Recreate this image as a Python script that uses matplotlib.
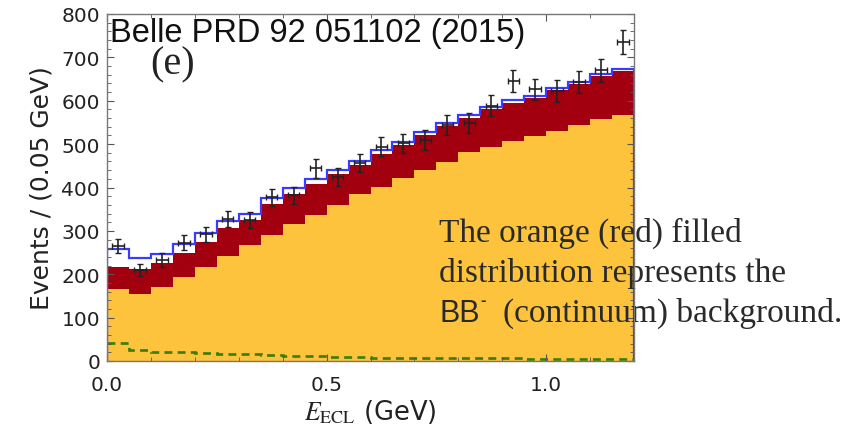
import numpy as np
import matplotlib
matplotlib.use("Agg")
import matplotlib.pyplot as plt
from matplotlib.ticker import MultipleLocator

plt.rcParams['font.family'] = ['DejaVu Sans']
plt.rcParams['mathtext.fontset'] = 'stix'

# E_ECL bins (0.05 GeV wide, 0 - 1.2 GeV)
bin_width = 0.05
n_bins = 24
# BB background (orange)
bb_bkg = [166, 154, 170, 193, 217, 242, 267, 290, 317, 336, 359, 384,
          402, 421, 440, 459, 482, 494, 508, 518, 531, 544, 557, 567]
# continuum background (red), stacked on top of BB
continuum = [51, 57, 55, 57, 58, 64, 58, 72, 69, 72, 71, 68,
             76, 77, 81, 82, 78, 86, 87, 89, 94, 95, 100, 101]
# signal (green dashed), adds to the total (blue)
signal = [42, 26, 21, 20, 19, 17, 15, 13, 12, 11, 10, 9,
          8, 8, 7, 7, 6, 6, 6, 5, 5, 5, 5, 5]
# data points
data = [266, 210, 233, 273, 292, 327, 325, 377, 382, 444, 424, 457,
        494, 502, 509, 544, 548, 588, 646, 626, 622, 643, 670, 735]

edges = np.arange(n_bins + 1) * bin_width
centers = 0.5 * (edges[:-1] + edges[1:])
bb_bkg = np.array(bb_bkg)
red_top = bb_bkg + np.array(continuum)
total = red_top + np.array(signal)
data = np.array(data)

fig = plt.figure(figsize=(8.58, 4.31), dpi=100)
ax = fig.add_axes([107/858, 1-362/431, 527/858, 347/431])

ax.stairs(bb_bkg, edges, baseline=0, fill=True, color='#FDC33D', zorder=1)
ax.stairs(red_top, edges, baseline=bb_bkg, fill=True, color='#A3000F', zorder=1.1)
ax.stairs(total, edges, baseline=0, color='#3B3BFF', lw=1.6, zorder=1.2)
ax.stairs(signal, edges, baseline=None, color='#3A7D00', lw=1.9, ls=(0, (3, 2)), zorder=1.3)
ax.errorbar(centers, data, yerr=np.sqrt(data), xerr=0.013, fmt='none',
            ecolor='#222222', elinewidth=1.2, capsize=2, capthick=1, zorder=3)

ax.set_xlim(0, 1.2)
ax.set_ylim(0, 800)
ax.xaxis.set_major_locator(MultipleLocator(0.5))
ax.xaxis.set_minor_locator(MultipleLocator(0.1))
ax.yaxis.set_major_locator(MultipleLocator(100))
ax.yaxis.set_minor_locator(MultipleLocator(20))
ax.xaxis.set_major_formatter(matplotlib.ticker.FormatStrFormatter('%.1f'))
ax.tick_params(which='both', direction='in', top=True, right=True, color='#555555')
ax.tick_params(which='major', length=5, labelsize=14.5, labelcolor='#222222')
ax.tick_params(which='minor', length=3)
ax.tick_params(axis='x', pad=10)
ax.tick_params(axis='y', pad=5)
for s in ax.spines.values():
    s.set_color('#777777')
    s.set_linewidth(1.0)
    s.set_zorder(2.5)

ax.set_ylabel('Events / (0.05 GeV)', fontsize=18, color='#222222', labelpad=6)
ax.set_xlabel(r'$E_{\mathrm{ECL}}$ (GeV)', fontsize=18.5, color='#222222', labelpad=2)

ax.text(0.006, 0.922, 'Belle PRD 92 051102 (2015)', transform=ax.transAxes,
        fontsize=23.5, family='Liberation Sans', va='baseline', ha='left', color='#111111', zorder=4)
ax.text(0.082, 0.828, '(e)', transform=ax.transAxes, fontsize=29,
        family='Liberation Serif', va='baseline', ha='left', color='#222222', zorder=4)

# explanation text, drawn below the spines
tx = 439/858
serif = dict(family='Liberation Serif', fontsize=24, color='#2a2a2a',
             va='baseline', ha='left', transform=fig.transFigure, clip_on=False, zorder=2.2)
ax.text(tx, 1-242/431, 'The orange (red) filled', **serif)
ax.text(tx, 1-282/431, 'distribution represents the', **serif)
t_bb = ax.text(tx, 1-322/431, 'BB', family='Liberation Sans', fontsize=22, color='#2a2a2a',
               va='baseline', ha='left', transform=fig.transFigure, clip_on=False, zorder=2.2)
fig.canvas.draw()
ext = t_bb.get_window_extent(fig.canvas.get_renderer())
ax.text(ext.x1/858 + 1/858, 1-301/431, '-', family='Liberation Sans', fontsize=12, fontweight='bold',
        color='#2a2a2a', va='center', ha='left', transform=fig.transFigure, clip_on=False, zorder=2.2)
ax.text(503/858, 1-322/431, '(continuum) background.', **serif)

fig.savefig('out.png', dpi=100)
